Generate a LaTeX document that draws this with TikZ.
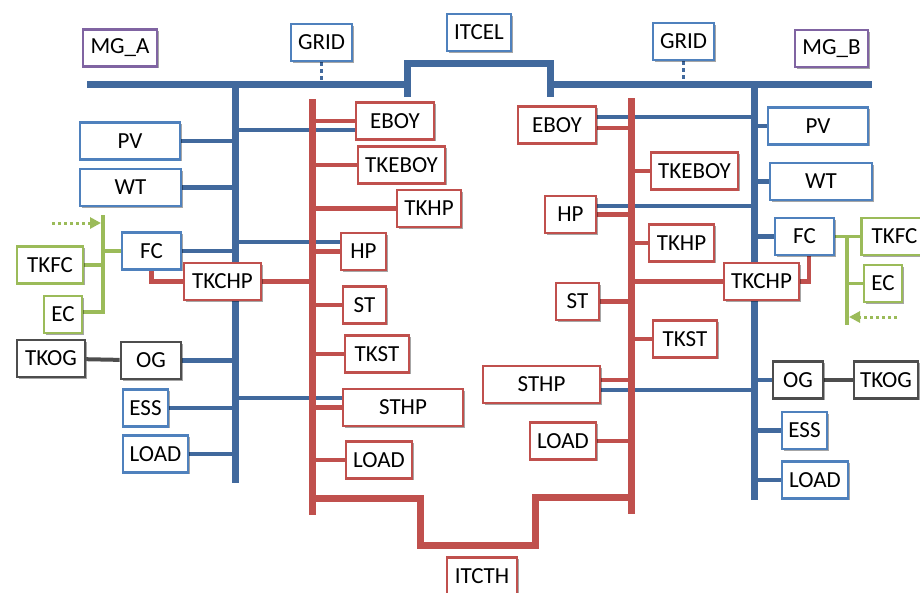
\documentclass[tikz,border=0pt]{standalone}
\usepackage{fontspec}
\setmainfont{Carlito}
\usetikzlibrary{arrows.meta}
\usetikzlibrary{backgrounds}
\usetikzlibrary{shadows}

\definecolor{busblue}{HTML}{41699D}
\definecolor{boxblue}{HTML}{4F81BD}
\definecolor{busred}{HTML}{C0504D}
\definecolor{leafgreen}{HTML}{9BBB59}
\definecolor{mgpurple}{HTML}{8064A2}
\definecolor{oggray}{HTML}{4D4D4D}

\begin{document}
\begin{tikzpicture}[x=1pt,y=-1pt,
    box/.style={draw,fill=white,line width=2.8pt,minimum height=37,inner sep=2pt,
      font=\fontsize{23}{26}\selectfont,
      drop shadow={shadow xshift=1.5pt,shadow yshift=-1.5pt,opacity=0.35,fill=black}},
    bbox/.style={box,draw=boxblue},
    rbox/.style={box,draw=busred},
    gbox/.style={box,draw=leafgreen},
    pbox/.style={box,draw=mgpurple},
    kbox/.style={box,draw=oggray},
    bbus/.style={draw=busblue,line width=7pt},
    rbus/.style={draw=busred,line width=7pt},
    bwire/.style={draw=busblue,line width=4.5pt},
    blong/.style={draw=busblue,line width=3.5pt},
    rwire/.style={draw=busred,line width=4.5pt},
    gwire/.style={draw=leafgreen,line width=3.5pt},
    kwire/.style={draw=oggray,line width=4pt}]

    \clip (0,0) rectangle (920,592);

    %------------------
    % top
    %------------------
    \node[pbox,minimum width=74] (mgA) at (120,48) {MG\_A};
    \node[bbox,minimum width=61] (gridA) at (321.5,42.5) {GRID};
    \node[bbox,minimum width=64] (itcel) at (479,32.5) {ITCEL};
    \node[bbox,minimum width=61] (gridB) at (683.5,41.5) {GRID};
    \node[pbox,minimum width=73] (mgB) at (831.5,48.5) {MG\_B};

    %------------------
    % MG_A
    %------------------
    \node[bbox,minimum width=100] (pvA) at (130,141) {PV};
    \node[bbox,minimum width=101] (wtA) at (130.5,187.5) {WT};
    \node[gbox,minimum width=66] (tkfcA) at (50,265) {TKFC};
    \node[gbox,minimum width=38] (ecA) at (63,314.5) {EC};
    \node[bbox,minimum width=59] (fcA) at (151.5,251) {FC};
    \node[rbox,minimum width=77] (tkchpA) at (222.5,281.5) {TKCHP};
    \node[kbox,minimum width=68] (tkogA) at (51,358.5) {TKOG};
    \node[kbox,minimum width=60] (ogA) at (151,360.5) {OG};
    \node[bbox,minimum width=45] (essA) at (145.5,408) {ESS};
    \node[bbox,minimum width=65] (loadA) at (155.5,454) {LOAD};

    \node[rbox,minimum width=78] (eboyA) at (395,121) {EBOY};
    \node[rbox,minimum width=87] (tkeboyA) at (401.5,165) {TKEBOY};
    \node[rbox,minimum width=64] (tkhpA) at (429,208.5) {TKHP};
    \node[rbox,minimum width=45] (hpA) at (363.5,251.5) {HP};
    \node[rbox,minimum width=43] (stA) at (364.5,305) {ST};
    \node[rbox,minimum width=64] (tkstA) at (377,354) {TKST};
    \node[rbox,minimum width=120] (sthpA) at (403,407.5) {STHP};
    \node[rbox,minimum width=66] (loadthA) at (379,460) {LOAD};

    \node[rbox,minimum width=70] (itcth) at (482,576) {ITCTH};

    %------------------
    % MG_B
    %------------------
    \node[rbox,minimum width=78] (eboyB) at (557,125) {EBOY};
    \node[rbox,minimum width=87] (tkeboyB) at (694.5,171) {TKEBOY};
    \node[rbox,minimum width=51] (hpB) at (570.5,214.5) {HP};
    \node[rbox,minimum width=65] (tkhpB) at (681.5,243) {TKHP};
    \node[rbox,minimum width=43] (stB) at (577.5,301.5) {ST};
    \node[rbox,minimum width=64] (tkstB) at (685,339) {TKST};
    \node[rbox,minimum width=117] (sthpB) at (541.5,384.5) {STHP};
    \node[rbox,minimum width=66] (loadthB) at (563,441) {LOAD};

    \node[bbox,minimum width=100] (pvB) at (818,126) {PV};
    \node[bbox,minimum width=102] (wtB) at (821,181.5) {WT};
    \node[bbox,minimum width=59] (fcB) at (804.5,236.5) {FC};
    \node[gbox,minimum width=66] (tkfcB) at (894.5,236.5) {TKFC};
    \node[gbox,minimum width=38] (ecB) at (883,283.5) {EC};
    \node[rbox,minimum width=75] (tkchpB) at (761.5,281.5) {TKCHP};
    \node[kbox,minimum width=50] (ogB) at (798,380) {OG};
    \node[kbox,minimum width=64] (tkogB) at (886,380) {TKOG};
    \node[bbox,minimum width=45] (essB) at (804.5,430.5) {ESS};
    \node[bbox,minimum width=66] (loadB) at (815,480) {LOAD};

    % bus coordinates
    \coordinate (busA) at (235.5,84);
    \coordinate (busB) at (754.5,84);
    \coordinate (redA) at (312,99);
    \coordinate (redB) at (631.5,98);
    \coordinate (grnA) at (103,215);
    \coordinate (grnB) at (847,237);
    \coordinate (inA) at (52,223);
    \coordinate (inB) at (897,317);

    \begin{pgfonlayer}{background}
      %------------------
      % electric lines across the thermal buses
      %------------------
      \draw[blong] ([yshift=-9pt]eboyA.west) -- ([yshift=-9pt]eboyA.west -| busA);
      \draw[blong] ([yshift=9.5pt]hpA.west) -- ([yshift=9.5pt]hpA.west -| busA);
      \draw[blong] ([yshift=9.5pt]sthpA.west) -- ([yshift=9.5pt]sthpA.west -| busA);
      \draw[blong] ([yshift=8pt]eboyB.east) -- ([yshift=8pt]eboyB.east -| busB);
      \draw[blong] ([yshift=8.5pt]hpB.east) -- ([yshift=8.5pt]hpB.east -| busB);
      \draw[blong] ([yshift=-5.5pt]sthpB.east) -- ([yshift=-5.5pt]sthpB.east -| busB);

      %------------------
      % buses
      %------------------
      \draw[bbus] (87,84) -- (407,84);
      \draw[bbus] (407,97) -- (407,63) -- (550,63) -- (550,97);
      \draw[bbus] (550,84) -- (872,84);
      \draw[bbus] (busA) -- (235.5,483);
      \draw[bbus] (busB) -- (754.5,500);

      \draw[rbus] (redA) -- (312,515);
      \draw[rbus] (redB) -- (631.5,514);
      \draw[rbus] (312,498) -- (420,498) -- (420,545) -- (535.5,545)
        -- (535.5,497) -- (631.5,497);

      \draw[draw=busblue,line width=3.5pt,dash pattern=on 4pt off 3pt]
        (gridA.south) -- (gridA.south |- busA);
      \draw[draw=busblue,line width=3.5pt,dash pattern=on 4pt off 3pt]
        (gridB.south) -- (gridB.south |- busB);

      %------------------
      % connectors
      %------------------
      \foreach \n in {pvA,wtA,fcA,ogA,essA,loadA}
        \draw[bwire] (\n.east) -- (\n.east -| busA);
      \foreach \n in {pvB,wtB,fcB,ogB,essB,loadB}
        \draw[bwire] (\n.west) -- (\n.west -| busB);

      \foreach \n in {eboyA,tkeboyA,tkhpA,hpA,stA,tkstA,sthpA,loadthA}
        \draw[rwire] (\n.west) -- (\n.west -| redA);
      \draw[rwire] (tkchpA.east) -- (tkchpA.east -| redA);
      \foreach \n in {tkeboyB,tkhpB,tkstB,tkchpB}
        \draw[rwire] (\n.west) -- (\n.west -| redB);
      \foreach \n in {hpB,stB,loadthB}
        \draw[rwire] (\n.east) -- (\n.east -| redB);
      \draw[rwire] ([yshift=-3pt]eboyB.east) -- ([yshift=-3pt]eboyB.east -| redB);
      \draw[rwire] ([yshift=4.5pt]sthpB.east) -- ([yshift=4.5pt]sthpB.east -| redB);

      \draw[rwire] (fcA.south) |- (tkchpA.west);
      \draw[rwire] (tkchpB.east) -| ([xshift=4.5pt]fcB.south);

      \draw[kwire] (tkogA) -- (ogA);
      \draw[kwire] (ogB) -- (tkogB);

      % fuel side
      \draw[gwire] (grnA) -- (103,314);
      \draw[gwire] (fcA.west) -- (fcA.west -| grnA);
      \draw[gwire] (tkfcA.east) -- (tkfcA.east -| grnA);
      \draw[gwire] ([yshift=2.5pt]ecA.east) -- ([yshift=2.5pt]ecA.east -| grnA);
      \draw[gwire,line width=3pt,dash pattern=on 3pt off 3pt,-{Triangle[length=11pt,width=11pt]}]
        (inA) -- ([xshift=-2pt]inA -| grnA);

      \draw[gwire] (grnB) -- (847,325);
      \draw[gwire] (fcB.east) -- (tkfcB.west);
      \draw[gwire] (ecB.west) -- (ecB.west -| grnB);
      \draw[gwire,line width=3pt,dash pattern=on 3pt off 3pt,-{Triangle[length=11pt,width=11pt]}]
        (inB) -- ([xshift=2pt]inB -| grnB);
    \end{pgfonlayer}
\end{tikzpicture}
\end{document}
